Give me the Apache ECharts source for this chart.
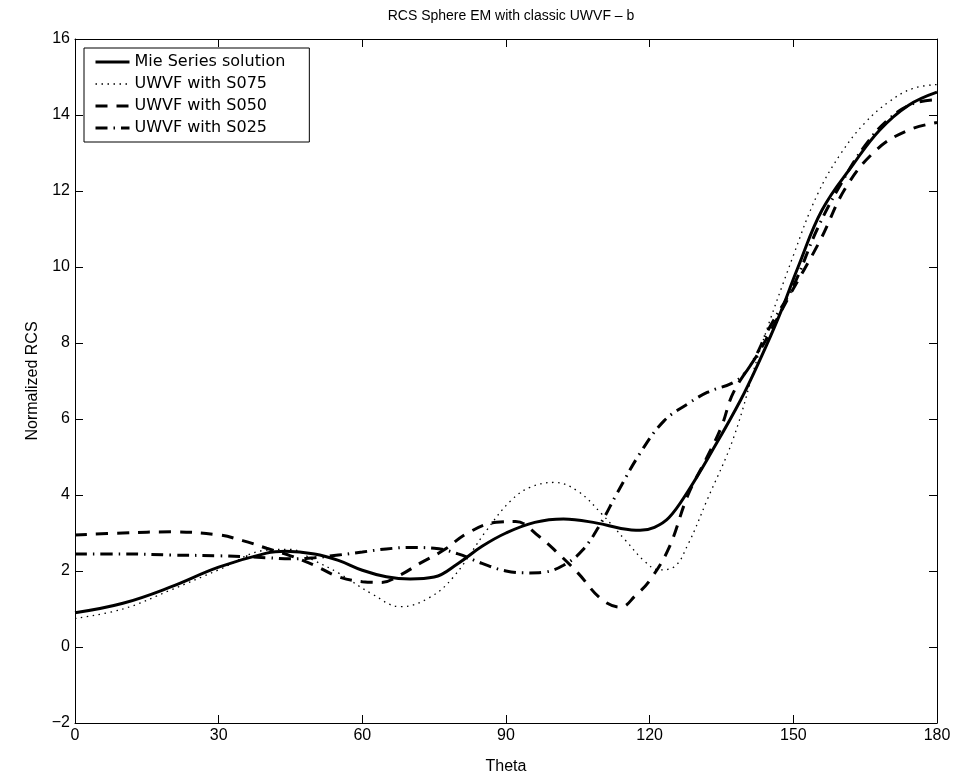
<!DOCTYPE html>
<html><head><meta charset="utf-8">
<script src="https://cdn.jsdelivr.net/npm/echarts@6/dist/echarts.min.js"></script>
<style>html,body{margin:0;padding:0;background:#fff}#c{width:975px;height:777px}</style>
</head><body><div id="c"></div>
<script>
var xTicks = [0, 30, 60, 90, 120, 150, 180];
var yTicks = [-2, 0, 2, 4, 6, 8, 10, 12, 14, 16];

var mieTheta = [0,10,20,30,40,44,50,55,60,65,70,75,80,85,90,96,102,109,114,118,121,124,128,133,139,143,147,151,156,162.5,168,174,180];
var mieVal   = [0.9,1.15,1.58,2.1,2.47,2.52,2.45,2.28,2.02,1.85,1.79,1.84,2.2,2.65,3.0,3.28,3.37,3.26,3.12,3.07,3.15,3.4,4.1,5.15,6.5,7.55,8.7,10.0,11.5,12.7,13.6,14.25,14.6];

var s075Theta = [0,10,20,30,40,45,50,55,62,68,74,79,86,91,95,100,105,110,115,119,122,125,128,132,137.5,143,150,155,160,165,170,175,180];
var s075Val   = [0.75,1.0,1.5,2.03,2.55,2.57,2.27,1.95,1.4,1.06,1.3,1.84,3.08,3.85,4.2,4.33,4.1,3.5,2.8,2.25,2.03,2.1,2.7,3.87,5.5,7.8,10.3,11.9,13.0,13.8,14.35,14.7,14.8];

var s050Theta = [0,10,20,30,35,40,45,50,55,60,64,68,72,77,82,88,92,97,101,105,110,114,117,120,124,128,132,135,137.5,143,149,155.6,161,167.5,174,180];
var s050Val   = [2.95,3.0,3.03,2.95,2.8,2.6,2.4,2.15,1.85,1.72,1.7,1.9,2.2,2.55,3.0,3.28,3.3,2.9,2.45,1.95,1.25,1.05,1.35,1.75,2.6,4.0,5.0,5.8,6.7,7.8,9.2,10.7,12.1,13.1,13.6,13.8];

var s025Theta = [0,10,20,30,40,45,50,55,60,65,70,75,80,85,90,95,98,102,106,110,113,118,123,128,132,138,141,145,150,155,160,165,170,175,180];
var s025Val   = [2.45,2.45,2.42,2.4,2.35,2.32,2.35,2.42,2.5,2.58,2.62,2.6,2.45,2.2,2.0,1.95,1.97,2.15,2.55,3.3,4.0,5.1,5.95,6.4,6.7,7.0,7.4,8.4,9.5,11.0,12.2,13.2,13.9,14.3,14.4];

var seriesNames = ['Mie Series solution', 'UWVF with S075', 'UWVF with S050', 'UWVF with S025'];

function pairs(xs, ys) { return xs.map(function (x, i) { return [x, ys[i]]; }); }

var font = 'Liberation Sans, Arial, Helvetica, sans-serif';
var chart = echarts.init(document.getElementById('c'), null, { renderer: 'canvas' });

var styles = [
  { color: '#000', width: 3, type: 'solid' },
  { color: '#000', width: 1.3, type: [1.5, 4.5] },
  { color: '#000', width: 3, type: [12, 9] },
  { color: '#000', width: 3, type: [12, 6, 1.5, 6] }
];

function baseX(show, pos) {
  return {
    type: 'value', min: 0, max: 180, interval: 30, position: pos,
    axisLine: { show: true, onZero: false, lineStyle: { color: '#000', width: 1 } },
    axisTick: { show: true, inside: true, length: 8, lineStyle: { color: '#000' } },
    axisLabel: { show: show, color: '#000', fontFamily: font, fontSize: 16, margin: 5 },
    splitLine: { show: false }
  };
}
function baseY(show, pos) {
  return {
    type: 'value', min: -2, max: 16, interval: 2, position: pos,
    axisLine: { show: true, onZero: false, lineStyle: { color: '#000', width: 1 } },
    axisTick: { show: true, inside: true, length: 8, lineStyle: { color: '#000' } },
    axisLabel: { show: show, color: '#000', fontFamily: font, fontSize: 16, margin: 5,
      formatter: function (v) { return String(v).replace('-', '\u2212'); } },
    splitLine: { show: false }
  };
}

var xa0 = baseX(true, 'bottom');
xa0.name = 'Theta'; xa0.nameLocation = 'middle'; xa0.nameGap = 36;
xa0.nameTextStyle = { color: '#000', fontFamily: font, fontSize: 16 };
var ya0 = baseY(true, 'left');
ya0.name = 'Normalized RCS'; ya0.nameLocation = 'middle'; ya0.nameGap = 33;
ya0.nameTextStyle = { color: '#000', fontFamily: font, fontSize: 16 };

chart.setOption({
  animation: false,
  backgroundColor: '#fff',
  title: {
    text: 'RCS Sphere EM with classic UWVF \u2013 b', left: 506, top: 4, textAlign: 'center',
    textStyle: { color: '#000', fontFamily: font, fontSize: 14, fontWeight: 'normal' }
  },
  grid: { left: 75, top: 39, right: 38, bottom: 54, containLabel: false, outerBoundsMode: 'none' },
  legend: {
    orient: 'vertical', left: 84, top: 48,
    backgroundColor: '#fff', borderColor: '#000', borderWidth: 1,
    padding: [6, 24, 6, 10], itemGap: 6, itemWidth: 34, itemHeight: 16,
    itemStyle: { color: 'rgba(0,0,0,0)', borderWidth: 0, opacity: 0 },
    textStyle: { color: '#000', fontFamily: 'DejaVu Sans, sans-serif', fontSize: 16 },
    data: seriesNames.map(function (n, i) { return { name: n, lineStyle: styles[i] }; })
  },
  xAxis: [xa0, baseX(false, 'top')],
  yAxis: [ya0, baseY(false, 'right')],
  series: [
    { name: seriesNames[0], type: 'line', smooth: 0.4, showSymbol: false, symbol: 'none',
      data: pairs(mieTheta, mieVal), lineStyle: styles[0], itemStyle: { color: '#000' } },
    { name: seriesNames[1], type: 'line', smooth: 0.4, showSymbol: false, symbol: 'none',
      data: pairs(s075Theta, s075Val), lineStyle: styles[1], itemStyle: { color: '#000' } },
    { name: seriesNames[2], type: 'line', smooth: 0.4, showSymbol: false, symbol: 'none',
      data: pairs(s050Theta, s050Val), lineStyle: styles[2], itemStyle: { color: '#000' } },
    { name: seriesNames[3], type: 'line', smooth: 0.4, showSymbol: false, symbol: 'none',
      data: pairs(s025Theta, s025Val), lineStyle: styles[3], itemStyle: { color: '#000' } }
  ]
});
</script></body></html>
